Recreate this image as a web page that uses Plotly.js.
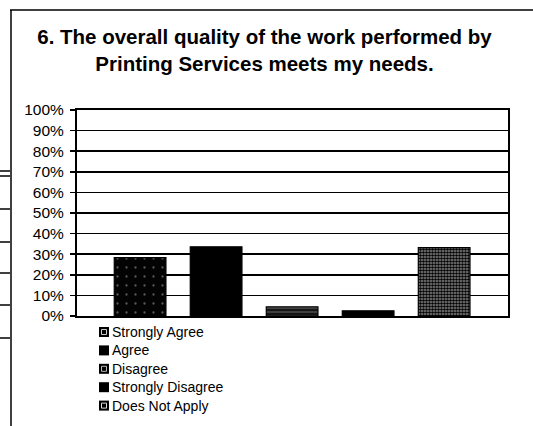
<!DOCTYPE html>
<html>
<head>
<meta charset="utf-8">
<script src="https://cdn.plot.ly/plotly-3.0.1.min.js"></script>
<style>
  html, body { margin: 0; padding: 0; background: #fff; overflow: hidden; }
  #chart { width: 533px; height: 426px; }
</style>
</head>
<body>
<div id="chart"></div>
<script>
// ---- data ----
const categories = ["Strongly Agree", "Agree", "Disagree", "Strongly Disagree", "Does Not Apply"];
const values = [28.3, 33.6, 4.5, 2.5, 33.2];
const tickValues = [0, 10, 20, 30, 40, 50, 60, 70, 80, 90, 100];
const tickLabels = ["0%", "10%", "20%", "30%", "40%", "50%", "60%", "70%", "80%", "90%", "100%"];
const titleText = "6. The overall quality of the work performed by<br>Printing Services meets my needs.";

// ---- styles ----
const FONT = "Arial, 'Liberation Sans', sans-serif";
const fills = [
  {color: "#000000", pattern: {shape: ".", fgcolor: "#5a5a5a", bgcolor: "#030303", size: 9, solidity: 0.05}},
  {color: "#000000"},
  {color: "#1a1a1a", pattern: {shape: "-", fgcolor: "#6a6a6a", bgcolor: "#151515", size: 4, solidity: 0.25}},
  {color: "#000000"},
  {color: "#555555", pattern: {shape: ".", fgcolor: "#000000", bgcolor: "#8c8c8c", size: 3, solidity: 0.6}}
];
const legendInner = ["#cccccc", null, "#bbbbbb", null, "#dddddd"];

const W = 533, H = 426;
const M = {l: 77, r: 25, t: 110, b: 110, autoexpand: false};
const pw = W - M.l - M.r, ph = H - M.t - M.b;
const px = x => (x - M.l) / pw;
const py = y => (H - M.b - y) / ph;

const traces = categories.map((name, i) => ({
  type: "bar",
  name: name,
  x: [i],
  y: [values[i]],
  width: 0.68,
  marker: Object.assign({line: {color: "#000", width: 1.2}}, fills[i]),
  showlegend: false,
  hoverinfo: "skip"
}));

// frame lines from the scanned page
const shapes = [
  {type: "line", xref: "paper", yref: "paper", x0: px(10), x1: px(533), y0: py(10), y1: py(10), line: {color: "#000", width: 1.5}},
  {type: "line", xref: "paper", yref: "paper", x0: px(11), x1: px(11), y0: py(10), y1: py(426), line: {color: "#000", width: 1.5}}
];
[171, 176, 209, 242, 273, 305, 338].forEach(y => {
  shapes.push({type: "line", xref: "paper", yref: "paper", x0: px(0), x1: px(10), y0: py(y), y1: py(y), line: {color: "#000", width: 1.5}});
});

// legend drawn under the plot, one row per category
const annotations = [];
const legendFont = 14;
const legendStep = legendFont * 1.3 + 0.2;
const legendTop = 332;
categories.forEach((name, i) => {
  const cy = legendTop + i * legendStep;
  shapes.push({type: "rect", xref: "paper", yref: "paper",
    x0: px(99), x1: px(109), y0: py(cy - 5), y1: py(cy + 5),
    fillcolor: "#000", line: {width: 0}});
  if (legendInner[i]) {
    shapes.push({type: "rect", xref: "paper", yref: "paper",
      x0: px(101.5), x1: px(106.5), y0: py(cy - 2.5), y1: py(cy + 2.5),
      fillcolor: "#000", line: {color: legendInner[i], width: 1}});
  }
  annotations.push({
    xref: "paper", yref: "paper", x: px(110), y: py(cy),
    xanchor: "left", yanchor: "middle", showarrow: false,
    text: name, font: {size: legendFont, family: FONT, color: "#000"}
  });
});

const layout = {
  width: W, height: H,
  margin: M,
  paper_bgcolor: "#fff", plot_bgcolor: "#fff",
  font: {family: FONT, color: "#000", size: 14},
  title: {
    text: "<b>" + titleText + "</b>",
    font: {size: 20.5, family: FONT, color: "#000"},
    x: 264.5 / W, xref: "container", xanchor: "center",
    y: 1 - 44 / H, yref: "container", yanchor: "middle"
  },
  barmode: "overlay",
  showlegend: false,
  xaxis: {
    range: [-0.83, 4.84],
    showticklabels: false,
    ticks: "",
    showgrid: false,
    zeroline: false,
    showline: true, linecolor: "#000", linewidth: 2, mirror: true,
    fixedrange: true
  },
  yaxis: {
    range: [0, 100],
    tickvals: tickValues,
    ticktext: tickLabels,
    ticks: "outside", ticklen: 5, tickcolor: "#000", tickwidth: 1.5,
    ticklabelstandoff: 3,
    showgrid: true, gridcolor: "#000", gridwidth: 1.5,
    zeroline: false,
    showline: true, linecolor: "#000", linewidth: 2, mirror: true,
    tickfont: {size: 15.5, family: FONT, color: "#000"},
    fixedrange: true
  },
  shapes: shapes,
  annotations: annotations
};

Plotly.newPlot("chart", traces, layout, {displayModeBar: false, staticPlot: true});
</script>
</body>
</html>
